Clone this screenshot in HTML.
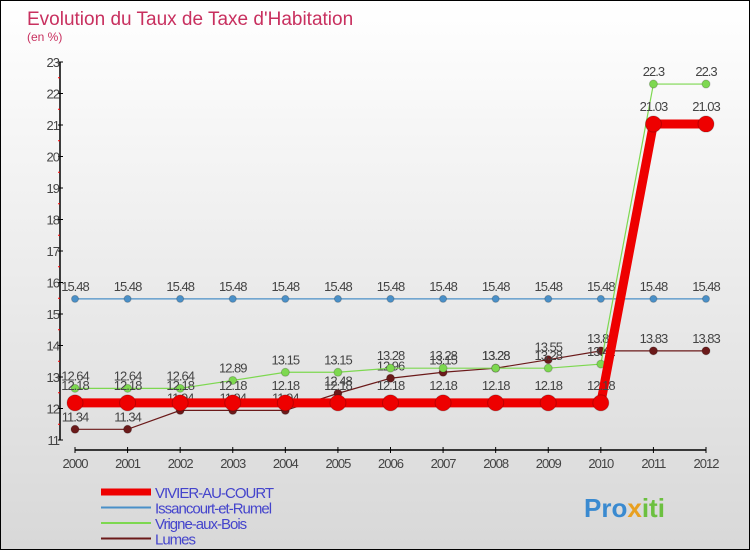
<!DOCTYPE html>
<html><head><meta charset="utf-8"><style>
body{margin:0}
#c{width:750px;height:550px;position:relative;box-sizing:border-box;border:1px solid #000;background:linear-gradient(#fff,#d8d8d8);font-family:"Liberation Sans",sans-serif;overflow:hidden}
</style></head><body>
<div id="c">
<svg width="748" height="548" id="s" style="position:absolute;left:0;top:0">
<text x="26" y="24" font-size="19" fill="#c8305f">Evolution du Taux de Taxe d'Habitation</text>
<text x="26" y="40" font-size="12" fill="#c8305f">(en %)</text>
</svg>
</div>
<script>
const years=[2000,2001,2002,2003,2004,2005,2006,2007,2008,2009,2010,2011,2012];
const yTicks=[11,12,13,14,15,16,17,18,19,20,21,22,23];
const vivier=[12.18,12.18,12.18,12.18,12.18,12.18,12.18,12.18,12.18,12.18,12.18,21.03,21.03];
const issancourt=[15.48,15.48,15.48,15.48,15.48,15.48,15.48,15.48,15.48,15.48,15.48,15.48,15.48];
const vrigne=[12.64,12.64,12.64,12.89,13.15,13.15,13.28,13.28,13.28,13.28,13.41,22.3,22.3];
const lumes=[11.34,11.34,11.94,11.94,11.94,12.48,12.96,13.15,13.28,13.55,13.83,13.83,13.83];
const ns="http://www.w3.org/2000/svg",s=document.getElementById('s');
const X=i=>74+(i)*(631/(years.length-1));
const Y=v=>439-(v-11)*(378/12);
function el(t,a,p){const e=document.createElementNS(ns,t);for(const k in a)e.setAttribute(k,a[k]);(p||s).appendChild(e);return e;}
let e=el('line',{x1:59,y1:Y(23),x2:59,y2:Y(11),stroke:'#000','stroke-width':1.5});

e=el('line',{x1:X(0),y1:449,x2:X(12),y2:449,stroke:'#000','stroke-width':1.5});

yTicks.forEach((v,i)=>{el('line',{x1:57,x2:62,y1:Y(v),y2:Y(v),stroke:'#000'});
 if(i<yTicks.length-1)el('line',{x1:57,x2:59,y1:Y(v+0.5),y2:Y(v+0.5),stroke:'#f00'});
 const t=el('text',{x:58,y:Y(v)+5,'font-size':13,'text-anchor':'end',fill:'#444','letter-spacing':'-1'});t.textContent=v;
 });
years.forEach((y,i)=>{el('line',{x1:X(i),x2:X(i),y1:446,y2:452,stroke:'#000'});
 const t=el('text',{x:X(i),y:467,'font-size':13,'text-anchor':'middle',fill:'#444','letter-spacing':'-1'});t.textContent=y;
 });
function series(d,col,w,r,name,lblOff){
 const g=el('g',{});
 el('polyline',{points:d.map((v,i)=>X(i)+','+Y(v)).join(' '),fill:'none',stroke:col,'stroke-width':w},g);
 d.forEach((v,i)=>{const c=el('circle',{cx:X(i),cy:Y(v),r:r,fill:col,stroke:'#0003'},g);
  
  const t=el('text',{x:X(i),y:Y(v)-lblOff,'font-size':13,'text-anchor':'middle',fill:'#444','letter-spacing':'-1'},g);t.textContent=v;});
}
series(issancourt,'#4a90c8',1.2,3.5,'series-issancourt',8);
series(lumes,'#6b1a1a',1.2,4,'series-lumes',8);
series(vrigne,'#7dd850',1.2,4,'series-vrigne',8);
series(vivier,'#ee0000',9,8,'series-vivier',13);
const leg=[['VIVIER-AU-COURT','#ee0000',7],['Issancourt-et-Rumel','#4a90c8',2],['Vrigne-aux-Bois','#7dd850',2],['Lumes','#6b1a1a',2]];
leg.forEach((l,i)=>{const g=el('g',{});
 const y=491+i*15.5;el('line',{x1:100,x2:150,y1:y,y2:y,stroke:l[1],'stroke-width':l[2]},g);
 const t=el('text',{x:154,y:y+6,'font-size':15,fill:'#4444cc','letter-spacing':'-1'},g);t.textContent=l[0];});
const p=el('text',{x:583,y:516,'font-size':26,'font-weight':'bold',fill:'#3a8ad0'});

[['Pro','#3a8ad0'],['x','#e8a020'],['iti','#6cc040']].forEach(a=>{const ts=el('tspan',{fill:a[1]},p);ts.textContent=a[0];});
</script>
</body></html>
